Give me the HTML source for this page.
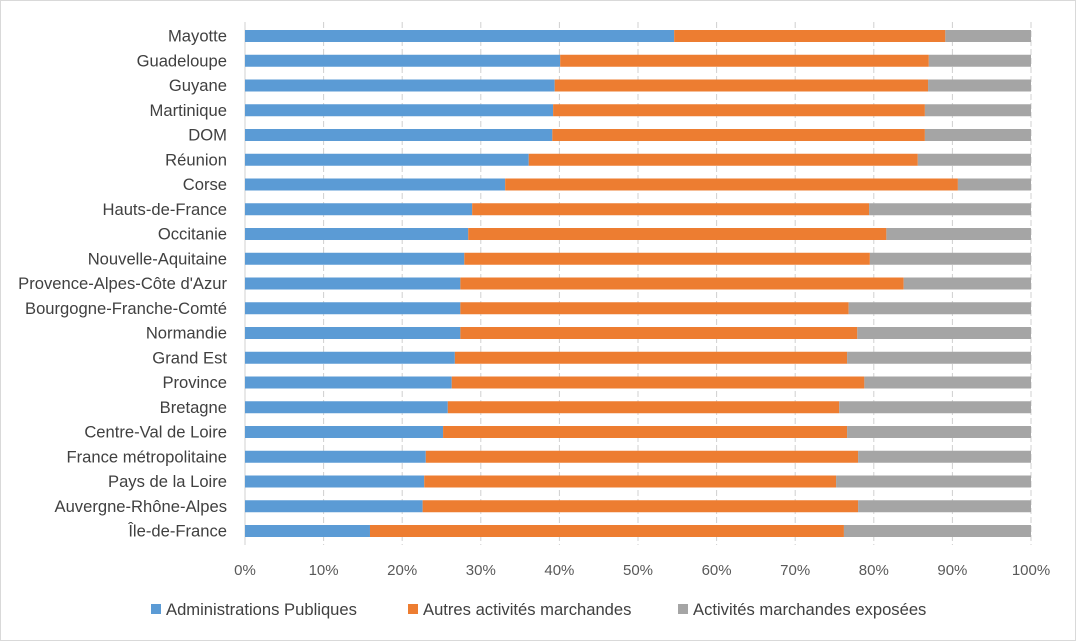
<!DOCTYPE html>
<html><head><meta charset="utf-8"><style>
body{margin:0;background:#fff;}
svg{display:block;font-family:"Liberation Sans",sans-serif;}
</style></head><body>
<svg id="chart" width="1076" height="641">
<rect x="0.5" y="0.5" width="1075" height="640" fill="#fff" stroke="#d9d9d9"/>
<g id="grid"></g><g id="bars"></g><g id="labels"></g><g id="ticks"></g><g id="legend"></g>
</svg>
<script>
const categories=["Mayotte","Guadeloupe","Guyane","Martinique","DOM","Réunion ","Corse","Hauts-de-France","Occitanie","Nouvelle-Aquitaine","Provence-Alpes-Côte d'Azur","Bourgogne-Franche-Comté","Normandie","Grand Est","Province","Bretagne","Centre-Val de Loire","France métropolitaine","Pays de la Loire","Auvergne-Rhône-Alpes","Île-de-France"];
const adminPub=[54.6,40.1,39.4,39.2,39.1,36.1,33.1,28.9,28.4,27.9,27.4,27.4,27.4,26.7,26.3,25.8,25.2,23.0,22.8,22.6,15.9];
const autres=[34.5,46.9,47.5,47.3,47.4,49.5,57.6,50.5,53.2,51.6,56.4,49.4,50.5,49.9,52.5,49.8,51.4,55.0,52.4,55.4,60.3];
const exposees=[10.9,13.0,13.1,13.5,13.5,14.4,9.3,20.6,18.4,20.5,16.2,23.2,22.1,23.4,21.2,24.4,23.4,22.0,24.8,22.0,23.8];
const tickLabels=["0%","10%","20%","30%","40%","50%","60%","70%","80%","90%","100%"];
const seriesNames=["Administrations Publiques","Autres activités marchandes","Activités marchandes exposées"];
const colors=["#5b9bd5","#ed7d31","#a5a5a5"];
const NS="http://www.w3.org/2000/svg";
const x0=245,x1=1031,yTop=36,step=24.75,barH=12;
const xs=v=>x0+(x1-x0)*v/100;
const ys=i=>yTop+i*step;
function mk(t,a,p){const e=document.createElementNS(NS,t);for(const k in a)e.setAttribute(k,a[k]);p.appendChild(e);return e;}
const grid=document.getElementById('grid'),bars=document.getElementById('bars'),labels=document.getElementById('labels'),ticks=document.getElementById('ticks'),legend=document.getElementById('legend');
tickLabels.forEach((t,i)=>{const v=i*10;
 const l=mk('line',{x1:xs(v),x2:xs(v),y1:22,y2:545,stroke:'#d0d0d0','stroke-dasharray':i==0?'':'6,3'},grid);
 
 
 const tx=mk('text',{x:xs(v),y:575,'text-anchor':'middle','font-size':15,fill:'#595959'},ticks);tx.textContent=t;
 
 
});
const series=[adminPub,autres,exposees];
categories.forEach((c,i)=>{let acc=0;
 series.forEach((s,j)=>{const r=mk('rect',{x:xs(acc),y:ys(i)-barH/2,width:xs(acc+s[i])-xs(acc),height:barH,fill:colors[j]},bars);
  
  
  acc+=s[i];});
 const t=mk('text',{x:227,y:ys(i)+5.5,'text-anchor':'end','font-size':16.6,fill:'#404040'},labels);t.textContent=c;
 
 
});
const lx=[151,408,678];
seriesNames.forEach((n,j)=>{
 const r=mk('rect',{x:lx[j],y:604,width:10,height:10,fill:colors[j]},legend);
 
 
 const t=mk('text',{x:lx[j]+15,y:615,'font-size':16.6,fill:'#404040'},legend);t.textContent=n;
 
 
});
</script>
</body></html>
